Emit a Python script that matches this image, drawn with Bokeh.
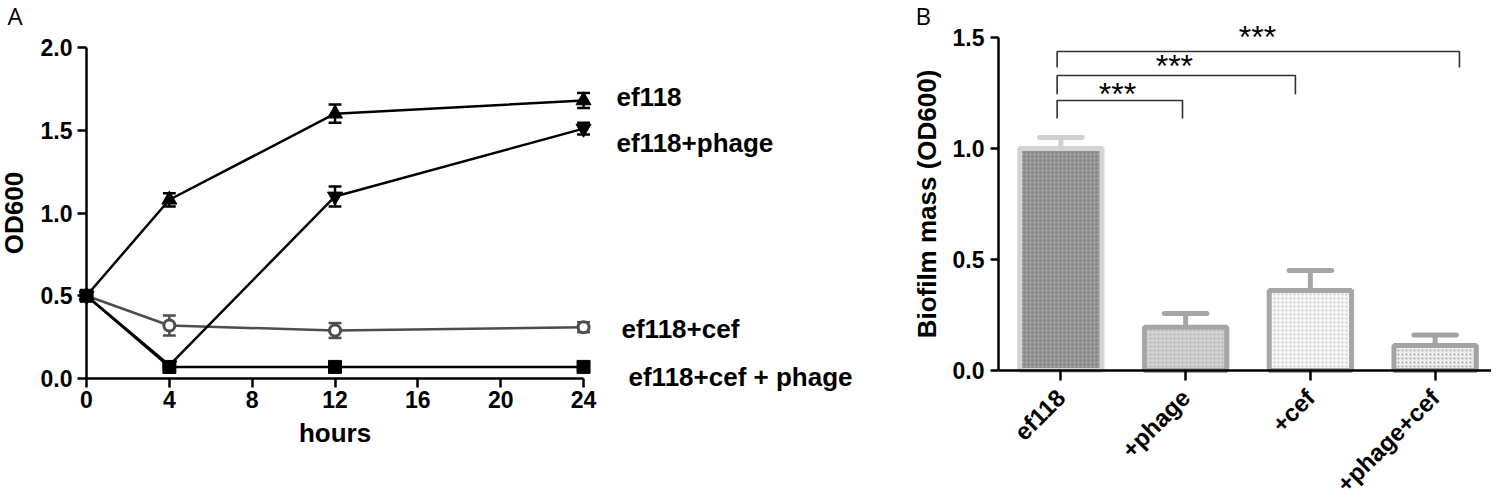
import math
from bokeh.plotting import figure
from bokeh.models import Range1d, LinearAxis, FixedTicker, PrintfTickFormatter, ColumnDataSource
from bokeh.layouts import row
from bokeh.embed import file_html
from bokeh.resources import INLINE
from bokeh.core.properties import value

# ---------------- Panel A data ----------------
hours = [0, 4, 12, 24]
series_names = ["ef118", "ef118+phage", "ef118+cef", "ef118+cef + phage"]
od_ef118 = [0.50, 1.08, 1.60, 1.68]
err_ef118 = [0.0, 0.04, 0.055, 0.045]
od_phage = [0.50, 0.08, 1.10, 1.51]
err_phage = [0.0, 0.01, 0.06, 0.035]
od_cef = [0.50, 0.32, 0.29, 0.31]
err_cef = [0.0, 0.06, 0.045, 0.03]
od_cef_phage = [0.50, 0.07, 0.07, 0.07]
err_cef_phage = [0.0, 0.0, 0.0, 0.0]
hour_ticks = [0, 4, 8, 12, 16, 20, 24]
od_ticks = [0.0, 0.5, 1.0, 1.5, 2.0]

# ---------------- Panel B data ----------------
categories = ["ef118", "+phage", "+cef", "+phage+cef"]
biofilm = [1.00, 0.195, 0.36, 0.113]
biofilm_err = [0.05, 0.062, 0.09, 0.047]
biofilm_ticks = [0.0, 0.5, 1.0, 1.5]
comparisons = [("ef118", "+phage"), ("ef118", "+cef"), ("ef118", "+phage+cef")]
significance = ["***", "***", "***"]

FONT = "Liberation Sans"

# ---------------- layout geometry (pixels) ----------------
A_W, A_H = 880, 497
PX_HOUR, PX_OD_A = 20.71, 165.5
A_X0_PX, A_Y0_PX = 86, 378          # where (0, 0) sits inside figure A
B_W, B_H = 611, 497
PX_CAT, PX_OD_B = 124.75, 222.0
B_X0_PX, B_Y0_PX = 118, 370


def style_axis(ax, tick_size="23px", label_size="26px"):
    ax.axis_line_width = 2.5
    ax.axis_line_color = "black"
    ax.major_tick_line_width = 2.5
    ax.major_tick_line_color = "black"
    ax.major_tick_out = 9
    ax.major_tick_in = 0
    ax.minor_tick_line_color = None
    ax.major_label_text_font = FONT
    ax.major_label_text_font_style = "bold"
    ax.major_label_text_font_size = tick_size
    ax.major_label_text_color = "black"
    ax.axis_label_text_font = FONT
    ax.axis_label_text_font_style = "bold"
    ax.axis_label_text_font_size = label_size
    ax.axis_label_text_color = "black"


# ================= Panel A =================
xa0 = -A_X0_PX / PX_HOUR
xa1 = xa0 + A_W / PX_HOUR
ya1 = A_Y0_PX / PX_OD_A
ya0 = ya1 - A_H / PX_OD_A

pA = figure(width=A_W, height=A_H, x_range=Range1d(xa0, xa1), y_range=Range1d(ya0, ya1),
            output_backend="svg", toolbar_location=None, x_axis_type=None, y_axis_type=None,
            min_border=0, outline_line_color=None, background_fill_color="white",
            border_fill_color="white")
pA.xgrid.visible = False
pA.ygrid.visible = False

yA = LinearAxis(fixed_location=0, bounds=(0, 2), ticker=FixedTicker(ticks=od_ticks),
                formatter=PrintfTickFormatter(format="%.1f"), axis_label="OD600")
style_axis(yA)
yA.major_label_standoff = 5
yA.axis_label_standoff = 9
pA.add_layout(yA, "left")

xA = LinearAxis(fixed_location=0, bounds=(0, 24), ticker=FixedTicker(ticks=hour_ticks),
                axis_label="hours")
style_axis(xA)
xA.major_label_standoff = 3
xA.axis_label_standoff = 7
pA.add_layout(xA, "below")

series = [
    (od_cef, err_cef, "#4d4d4d", "circle", 11, "white", 3),
    (od_ef118, err_ef118, "black", "triangle", 15, "black", 1),
    (od_phage, err_phage, "black", "inverted_triangle", 15, "black", 1),
    (od_cef_phage, err_cef_phage, "black", "square", 13, "black", 1),
]
cap_half = 0.31
for vals, errs, col, marker, size, fill, mlw in series:
    pA.line(hours, vals, line_color=col, line_width=2.5)
    lo = [v - e for v, e in zip(vals, errs)]
    hi = [v + e for v, e in zip(vals, errs)]
    pA.segment(x0=hours, y0=lo, x1=hours, y1=hi, line_color=col, line_width=2.5)
    pA.segment(x0=[h - cap_half for h in hours], y0=hi, x1=[h + cap_half for h in hours], y1=hi,
               line_color=col, line_width=2.5)
    pA.segment(x0=[h - cap_half for h in hours], y0=lo, x1=[h + cap_half for h in hours], y1=lo,
               line_color=col, line_width=2.5)
    pA.scatter(hours, vals, marker=marker, size=size, fill_color=fill, line_color=col,
               line_width=mlw)

# series labels at right end
lab_px = [(616, 102), (616, 148), (621, 334), (628, 382)]
lab_x = [(px - A_X0_PX) / PX_HOUR for px, _ in lab_px]
lab_y = [(A_Y0_PX - py) / PX_OD_A for _, py in lab_px]
pA.text(x=lab_x, y=lab_y, text=series_names, text_font=value(FONT), text_font_style="bold",
        text_font_size="26px", text_color="black", text_align="left", text_baseline="alphabetic",
        y_offset=-6)

# panel letter
pA.text(x=[(7 - A_X0_PX) / PX_HOUR], y=[(A_Y0_PX - 24) / PX_OD_A], text=["A"],
        text_font=value("Open Sans"), text_font_size="24px", text_color="black",
        text_align="left", text_baseline="alphabetic", y_offset=-9)

# ================= Panel B =================
xb0 = -B_X0_PX / PX_CAT
xb1 = xb0 + B_W / PX_CAT
yb1 = B_Y0_PX / PX_OD_B
yb0 = yb1 - B_H / PX_OD_B

pB = figure(width=B_W, height=B_H, x_range=Range1d(xb0, xb1), y_range=Range1d(yb0, yb1),
            output_backend="svg", toolbar_location=None, x_axis_type=None, y_axis_type=None,
            min_border=0, outline_line_color=None, background_fill_color="white",
            border_fill_color="white")
pB.xgrid.visible = False
pB.ygrid.visible = False

bar_x = [i + 0.5 for i in range(len(categories))]

src = ColumnDataSource(dict(
    x=bar_x, top=biofilm,
    fill=["#8c8c8c", "#d2d2d2", "#f6f6f6", "#ececec"],
    line=["#d4d4d4", "#a6a6a6", "#a6a6a6", "#a3a3a3"],
    hatch=["#b4b4b4", "#b0b0b0", "#c4c4c4", "#a8a8a8"],
))
pB.vbar(x="x", top="top", bottom=0, width=0.66, source=src, fill_color="fill",
        line_color="line", line_width=5, hatch_pattern="dot", hatch_color="hatch",
        hatch_scale=4, hatch_weight=1.2)

err_top = [v + e for v, e in zip(biofilm, biofilm_err)]
err_cols = ["#d0d0d0", "#a6a6a6", "#a6a6a6", "#a3a3a3"]
bcap = 0.17
pB.segment(x0=bar_x, y0=biofilm, x1=bar_x, y1=err_top, line_color=err_cols, line_width=5)
pB.segment(x0=[x - bcap for x in bar_x], y0=err_top, x1=[x + bcap for x in bar_x], y1=err_top,
           line_color=err_cols, line_width=5, line_cap="round")

yB = LinearAxis(fixed_location=0, bounds=(0, 1.5), ticker=FixedTicker(ticks=biofilm_ticks),
                formatter=PrintfTickFormatter(format="%.1f"), axis_label="Biofilm mass (OD600)")
style_axis(yB)
yB.major_tick_out = 8
yB.major_label_standoff = 6
yB.axis_label_standoff = 8
pB.add_layout(yB, "left")

xB = LinearAxis(fixed_location=0, bounds=(0, 4), ticker=FixedTicker(ticks=bar_x),
                major_label_overrides={x: c for x, c in zip(bar_x, categories)})
style_axis(xB, tick_size="24px")
xB.major_tick_out = 10
xB.major_label_orientation = math.pi / 4
xB.major_label_standoff = 13
pB.add_layout(xB, "below")

# significance brackets
cat_pos = {c: x for c, x in zip(categories, bar_x)}
right_shift = [-0.025, -0.12, 0.195]
bracket_y = [1.216, 1.329, 1.437]
leg_drop = [0.081, 0.085, 0.072]
xs, ys = [], []
for (a, b), sh, yh, dr in zip(comparisons, right_shift, bracket_y, leg_drop):
    xl = cat_pos[a] - 0.03
    xr = cat_pos[b] + sh
    xs.append([xl, xl, xr, xr])
    ys.append([yh - dr, yh, yh, yh - dr])
star_x = [0.954, 1.41, 2.076]
star_y = [1.26, 1.383, 1.514]
pB.multi_line(xs=xs, ys=ys, line_color="#303030", line_width=1.6)
pB.text(x=star_x, y=star_y, text=significance, text_font=value(FONT), text_font_size="32px",
        text_color="black", text_align="center", text_baseline="alphabetic", y_offset=3)

pB.text(x=[(915 - 880 - B_X0_PX) / PX_CAT], y=[(B_Y0_PX - 24) / PX_OD_B], text=["B"],
        text_font=value("Open Sans"), text_font_size="24px", text_color="black",
        text_align="left", text_baseline="alphabetic", y_offset=-9)

layout = row(pA, pB)
open("out.html", "w").write(file_html(layout, INLINE))
